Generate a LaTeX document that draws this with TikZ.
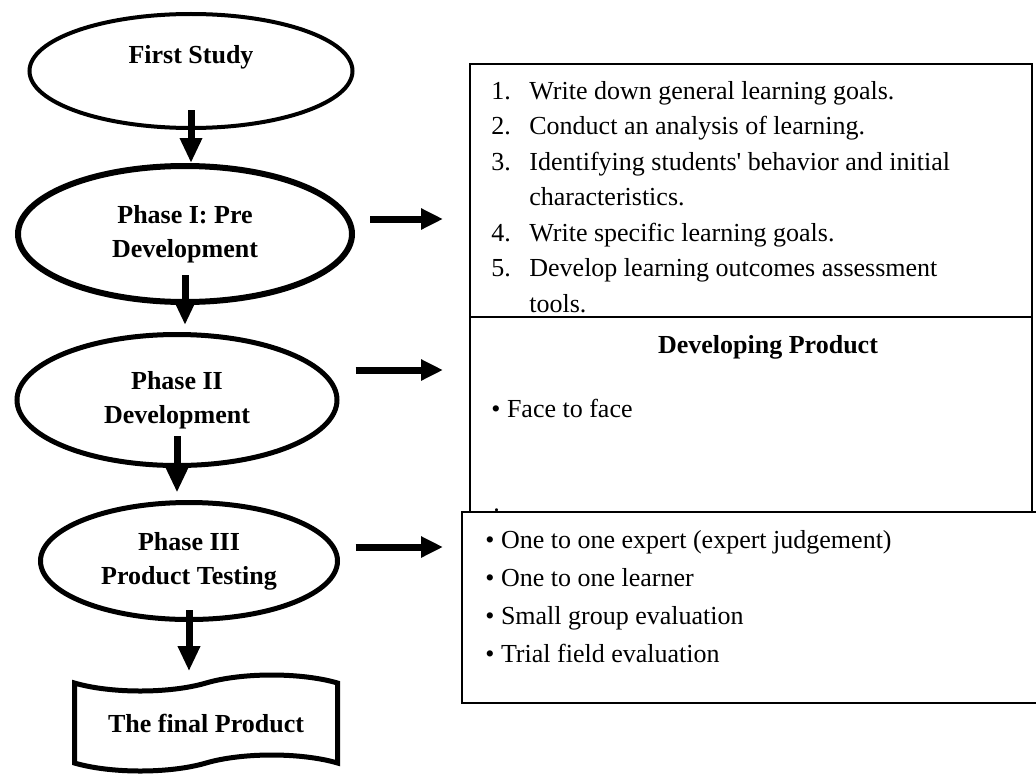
\documentclass[tikz,border=0pt]{standalone}
\usepackage{fontspec}
\setmainfont{Liberation Serif}
\usetikzlibrary{positioning}
\usetikzlibrary{calc}
\usetikzlibrary{arrows.meta,shapes.geometric,shapes.symbols}

\tikzset{
  phase/.style={ellipse,draw,inner sep=0pt,align=center,
    font=\fontsize{13pt}{17pt}\selectfont\bfseries},
  darr/.style={line width=3.5pt,-{Triangle[length=12.5pt,width=10.5pt]}},
  rarr/.style={line width=3.5pt,-{Triangle[length=11pt,width=10pt]}},
  boxst/.style={draw,line width=1pt,inner sep=0pt,outer sep=0pt,anchor=north west},
  txt/.style={inner sep=0pt,anchor=base west}
}

\begin{document}
\begin{tikzpicture}[x=25pt,y=25pt]
\useasboundingbox (0,0) rectangle (20.72,-15.52);

\node[phase,line width=2pt,minimum width=161.5pt,minimum height=57pt](fs) at (3.82,-1.42){First Study\\\mbox{}};
\node[phase,line width=3pt,minimum width=167pt,minimum height=68pt](p1) at (3.70,-4.68){Phase I: Pre\\Development};
\node[phase,line width=2.5pt,minimum width=160pt,minimum height=65.5pt](p2) at (3.54,-8.00){Phase II\\Development};
\node[phase,line width=2.5pt,minimum width=148.5pt,minimum height=58.5pt](p3) at (3.78,-11.22){Phase III\\Product Testing};
\node[tape,draw,line width=2.5pt,tape bend height=8pt,minimum width=131.5pt,minimum height=48pt,
  font=\fontsize{13pt}{17pt}\selectfont\bfseries](fp) at (4.12,-14.46){The final Product};

\node[boxst,minimum width=281pt,minimum height=126.5pt](box1) at (9.40,-1.28){};
\node[boxst,minimum width=281pt,minimum height=97.5pt](box2) at (9.40,-6.34){};
\node[boxst,minimum width=291.5pt,minimum height=95.5pt](box3) at (9.24,-10.24){};

\node[txt,font=\fontsize{13pt}{17.75pt}\selectfont](goals) at (9.82,-1.98){%
\begin{tabular}[t]{@{}p{19pt}@{}l@{}}
1. & Write down general learning goals.\\
2. & Conduct an analysis of learning.\\
3. & Identifying students\textquotesingle{} behavior and initial\\
   & characteristics.\\
4. & Write specific learning goals.\\
5. & Develop learning outcomes assessment\\
   & tools.
\end{tabular}};
\node[anchor=base,inner sep=0pt,font=\fontsize{13pt}{17pt}\selectfont\bfseries](devhead) at (15.36,-7.06){Developing Product};
\node[txt,font=\fontsize{13pt}{17pt}\selectfont](face) at (9.82,-8.34){\textbullet\ Face to face};
\node[txt,font=\fontsize{13pt}{17pt}\selectfont](dot) at (9.86,-10.22){.};
\node[txt,font=\fontsize{13pt}{19pt}\selectfont](tests) at (9.70,-10.96){%
\begin{tabular}[t]{@{}l@{}}
\textbullet\ One to one expert (expert judgement)\\
\textbullet\ One to one learner\\
\textbullet\ Small group evaluation\\
\textbullet\ Trial field evaluation
\end{tabular}};

\coordinate (sA) at ([shift={(7.5pt,7.5pt)}]p1.east);
\coordinate (sB) at ([shift={(8pt,15pt)}]p2.east);
\coordinate (sC) at ([shift={(7.75pt,7pt)}]p3.east);

\path
([yshift=10pt]fs.south) edge[darr] (fs.south |- p1.north)
([yshift=15pt]p1.south) edge[darr] ([yshift=3.5pt]p1.south |- p2.north)
([yshift=16pt]p2.south) edge[darr] ([yshift=3.75pt]p2.south |- p3.north)
([yshift=6pt]p3.south) edge[darr] ([yshift=5pt]p3.south |- fp.north)
(sA) edge[rarr] ([xshift=-13.5pt]sA -| box1.west)
(sB) edge[rarr] ([xshift=-13.5pt]sB -| box2.west)
(sC) edge[rarr] ([xshift=-9.5pt]sC -| box3.west);
\end{tikzpicture}
\end{document}
